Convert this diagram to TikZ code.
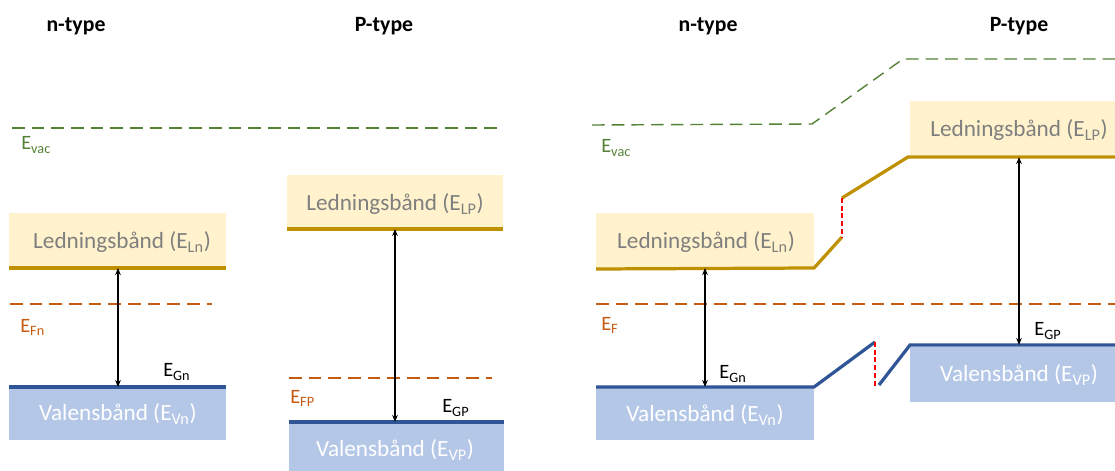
\documentclass[tikz,border=0pt]{standalone}
\usepackage{fontspec}
\setmainfont{Carlito}
\usepackage{xcolor}
\usetikzlibrary{arrows.meta}

\definecolor{condfill}{HTML}{FFF2CC}
\definecolor{condline}{HTML}{BF9000}
\definecolor{valfill}{HTML}{B4C7E7}
\definecolor{valline}{HTML}{2F5597}
\definecolor{vacgreen}{HTML}{548235}
\definecolor{fermi}{HTML}{C55A11}
\definecolor{labgray}{HTML}{7F7F7F}

\tikzset{
  bandtxt/.style={inner sep=0pt, font=\fontsize{16.5}{19}\selectfont},
  lbl/.style={inner sep=0pt, anchor=west, font=\fontsize{14.5}{17}\selectfont},
  head/.style={inner sep=0pt, font=\fontsize{15.5}{18}\selectfont\bfseries},
  vacline/.style={vacgreen, line width=1pt, dash pattern=on 9pt off 5pt},
  fermiline/.style={fermi, line width=1pt, dash pattern=on 9pt off 5pt},
  condedge/.style={condline, line width=2.3pt},
  valedge/.style={valline, line width=2.3pt},
  jump/.style={red, line width=0.9pt, dash pattern=on 3.5pt off 2pt},
  gaparrow/.style={{Stealth[length=5pt,width=4pt]}-{Stealth[length=5pt,width=4pt]}, line width=0.8pt}
}

\begin{document}
\begin{tikzpicture}[x=0.025cm,y=-0.025cm]
\useasboundingbox (0,0) rectangle (1115,471);

% before contact
\node[head] (ntypeA) at (76,26) {n-type};
\node[head] (ptypeA) at (384,26) {P-type};

\draw[vacline] (12,128) -- (498,128);
\node[lbl, text=vacgreen] (evacA) at (21,145) {E\textsubscript{vac}};

\fill[condfill] (9,213) rectangle (226,268);
\draw[condedge] (9,268) -- (226,268);
\node[bandtxt, text=labgray] (lnA) at (122,242) {Ledningsbånd (E\textsubscript{Ln})};

\draw[fermiline] (10,304) -- (212,304);
\node[lbl, text=fermi] (efnA) at (20,327) {E\textsubscript{Fn}};

\fill[valfill] (9,387) rectangle (226,440);
\draw[valedge] (9,387) -- (226,387);
\node[bandtxt, text=white] (vnA) at (118,414) {Valensbånd (E\textsubscript{Vn})};

\coordinate (gnA top) at (118,268);
\coordinate (gnA bot) at (118,387);
\draw[gaparrow] (gnA top) -- (gnA bot);
\node[lbl] (egnA) at (163,372) {E\textsubscript{Gn}};

\fill[condfill] (287,175) rectangle (503,229);
\draw[condedge] (287,229) -- (503,229);
\node[bandtxt, text=labgray] (lpA) at (395,204) {Ledningsbånd (E\textsubscript{LP})};

\draw[fermiline] (289,378) -- (492,378);
\node[lbl, text=fermi] (efpA) at (290,398) {E\textsubscript{FP}};

\fill[valfill] (289,422) rectangle (504,471);
\draw[valedge] (289,422) -- (504,422);
\node[bandtxt, text=white] (vpA) at (395,450) {Valensbånd (E\textsubscript{VP})};

\coordinate (gpA top) at (395,229);
\coordinate (gpA bot) at (395,422);
\draw[gaparrow] (gpA top) -- (gpA bot);
\node[lbl] (egpA) at (442,408) {E\textsubscript{GP}};

% after contact
\node[head] (ntypeB) at (708,26) {n-type};
\node[head] (ptypeB) at (1019,26) {P-type};

\draw[vacline] (592,125) -- (812,124) -- (903,59) -- (1115,59);
\node[lbl, text=vacgreen] (evacB) at (601,148) {E\textsubscript{vac}};

\fill[condfill] (596,213) rectangle (814,268);
\draw[condedge] (596,269) -- (814,268) -- (842,237);
\draw[condedge] (842,198) -- (908,157) -- (1115,157);
\draw[jump] (842,198) -- (842,237);
\node[bandtxt, text=labgray] (lnB) at (706,242) {Ledningsbånd (E\textsubscript{Ln})};

\fill[condfill] (910,101) rectangle (1115,155);
\node[bandtxt, text=labgray] (lpB) at (1019,130) {Ledningsbånd (E\textsubscript{LP})};

\draw[fermiline] (596,304) -- (1115,304);
\node[lbl, text=fermi] (efB) at (601,325) {E\textsubscript{F}};

\fill[valfill] (596,388) rectangle (814,440);
\draw[valedge] (596,387) -- (814,387) -- (875,342);
\draw[jump] (875,342) -- (875,387);
\fill[valfill] (910,347) rectangle (1115,402);
\draw[valedge] (879,385) -- (910,345) -- (1115,345);
\node[bandtxt, text=white] (vnB) at (705,415) {Valensbånd (E\textsubscript{Vn})};
\node[bandtxt, text=white] (vpB) at (1019,375) {Valensbånd (E\textsubscript{VP})};

\coordinate (gnB top) at (705,268);
\coordinate (gnB bot) at (705,387);
\draw[gaparrow] (gnB top) -- (gnB bot);
\node[lbl] (egnB) at (719,374) {E\textsubscript{Gn}};

\coordinate (gpB top) at (1019,157);
\coordinate (gpB bot) at (1019,345);
\draw[gaparrow] (gpB top) -- (gpB bot);
\node[lbl] (egpB) at (1034,331) {E\textsubscript{GP}};

\end{tikzpicture}
\end{document}
